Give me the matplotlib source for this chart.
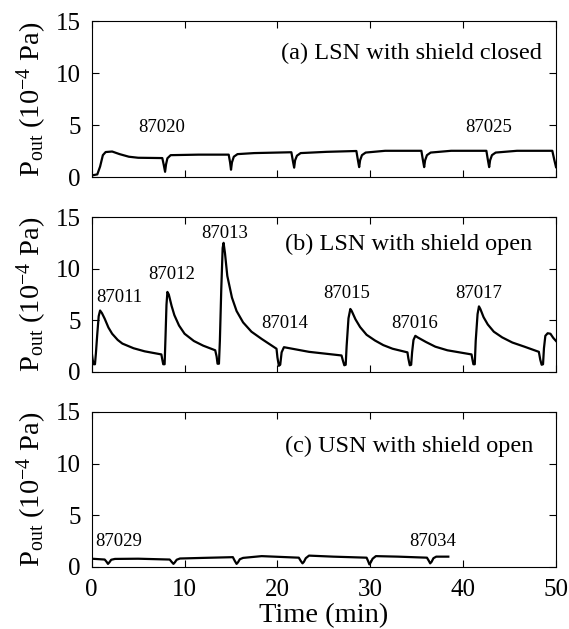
import matplotlib
matplotlib.use('Agg')
import matplotlib.pyplot as plt

plt.rcParams['font.family'] = ['Liberation Serif', 'DejaVu Serif']
plt.rcParams['mathtext.fontset'] = 'custom'
plt.rcParams['mathtext.rm'] = 'Liberation Serif'
plt.rcParams['mathtext.it'] = 'Liberation Serif:italic'

# (a) LSN with shield closed
t_a = [0, 0.6, 0.9, 1.2, 1.5, 2.2, 3.0, 4.0, 5.0, 7.6, 7.75, 7.9, 8.0, 8.15, 8.5,
       11.5, 14.75, 14.9, 15.0, 15.1, 15.3, 15.7, 17.5, 21.5, 21.65, 21.8, 21.9, 22.1, 22.5,
       25.3, 28.5, 28.65, 28.8, 28.9, 29.1, 29.5, 31.6, 35.5, 35.65, 35.8, 35.9, 36.1, 36.5,
       38.7, 42.5, 42.65, 42.8, 42.9, 43.1, 43.5, 45.8, 49.6, 49.8, 50.0]
p_a = [0.15, 0.25, 1.0, 2.1, 2.4, 2.45, 2.2, 1.95, 1.85, 1.82, 1.2, 0.5, 1.2, 1.8, 2.1,
       2.15, 2.15, 1.4, 0.7, 1.4, 1.95, 2.2, 2.3, 2.38, 1.6, 0.9, 1.6, 2.05, 2.3,
       2.42, 2.5, 1.7, 0.95, 1.6, 2.1, 2.35, 2.52, 2.52, 1.7, 0.95, 1.6, 2.1, 2.35,
       2.52, 2.52, 1.7, 0.95, 1.6, 2.1, 2.35, 2.52, 2.52, 1.7, 0.95]

# (b) LSN with shield open
t_b = [0, 0.1, 0.2, 0.35, 0.45, 0.6, 0.75, 0.9, 1.1, 1.4, 1.8, 2.2, 2.8, 3.3, 4.5, 5.7,
       7.5, 7.6, 7.7, 7.85, 7.95, 8.05, 8.15, 8.3, 8.6, 8.9, 9.4, 10.0, 11.0, 12.0,
       13.3, 13.45, 13.55, 13.7, 13.8, 13.95, 14.1, 14.2, 14.35, 14.6, 15.1, 15.6, 16.3,
       17.2, 18.3, 19.9, 20.0, 20.15, 20.3, 20.45, 20.7, 21.0, 23.4, 26.9, 27.05, 27.2,
       27.35, 27.45, 27.65, 27.85, 28.0, 28.4, 28.9, 29.6, 30.5, 31.4, 32.4, 34.0, 34.1,
       34.25, 34.4, 34.5, 34.65, 34.85, 35.1, 36.0, 37.0, 38.3, 40.9, 41.0, 41.1, 41.25,
       41.35, 41.55, 41.7, 41.85, 42.2, 42.65, 43.3, 44.2, 45.3, 46.6, 48.15, 48.3, 48.45,
       48.6, 48.7, 48.85, 49.1, 49.4, 49.7, 50.0]
p_b = [1.9, 1.2, 0.75, 0.75, 1.8, 3.7, 5.4, 5.95, 5.7, 5.15, 4.3, 3.7, 3.1, 2.75, 2.3, 2.0,
       1.7, 1.2, 0.75, 0.75, 3.5, 6.5, 7.75, 7.5, 6.4, 5.5, 4.5, 3.7, 3.0, 2.55,
       2.1, 1.5, 0.8, 0.8, 3.0, 8.0, 12.0, 12.5, 11.5, 9.3, 7.2, 5.9, 4.8,
       3.9, 3.2, 2.25, 1.4, 0.6, 0.7, 1.9, 2.4, 2.35, 1.95, 1.6, 1.1, 0.65,
       0.7, 2.5, 5.2, 6.1, 5.9, 5.1, 4.35, 3.6, 3.05, 2.6, 2.25, 1.9, 1.3,
       0.65, 0.7, 1.9, 3.1, 3.5, 3.35, 2.9, 2.45, 2.1, 1.7, 1.2, 0.75, 0.75,
       3.0, 5.6, 6.35, 6.1, 5.3, 4.6, 3.9, 3.35, 2.85, 2.45, 1.95, 1.2, 0.7,
       0.75, 2.3, 3.5, 3.75, 3.7, 3.3, 3.0]

# (c) USN with shield open
t_c = [0, 1.4, 1.6, 1.75, 1.9, 2.1, 2.5, 5.0, 8.4, 8.6, 8.8, 8.95, 9.15, 9.5, 12.0,
       15.2, 15.4, 15.6, 15.75, 15.95, 16.3, 18.3, 22.3, 22.5, 22.7, 22.85, 23.05, 23.4,
       26.0, 29.6, 29.75, 29.9, 30.05, 30.25, 30.6, 33.0, 36.1, 36.3, 36.45, 36.6, 36.8,
       37.1, 38.4]
p_c = [0.8, 0.72, 0.5, 0.3, 0.45, 0.7, 0.78, 0.8, 0.72, 0.5, 0.3, 0.45, 0.7, 0.82, 0.88,
       0.95, 0.6, 0.3, 0.45, 0.75, 0.88, 1.05, 0.9, 0.6, 0.35, 0.5, 0.85, 1.1,
       1.0, 0.9, 0.6, 0.25, 0.45, 0.8, 1.05, 1.0, 0.9, 0.6, 0.35, 0.5, 0.85,
       1.0, 1.0]

titles = ['(a) LSN with shield closed', '(b) LSN with shield open', '(c) USN with shield open']
shots_a = [('87020', 7.5, 4.75), ('87025', 42.8, 4.75)]
shots_b = [('87011', 2.95, 7.2), ('87012', 8.65, 9.4), ('87013', 14.35, 13.45),
           ('87014', 20.8, 4.65), ('87015', 27.5, 7.6), ('87016', 34.8, 4.65),
           ('87017', 41.7, 7.6)]
shots_c = [('87029', 2.95, 2.45), ('87034', 36.75, 2.45)]

x_ticks = [0, 10, 20, 30, 40, 50]
y_ticks = [0, 5, 10, 15]

fig = plt.figure(figsize=(5.69, 6.29), dpi=100)

# axes boxes in figure fraction
boxes = [[0.1612, 0.7186, 0.816, 0.248],
         [0.1612, 0.4086, 0.816, 0.2464],
         [0.1612, 0.0986, 0.816, 0.2464]]
title_pos = [(0.969, 0.795), (0.948, 0.826), (0.951, 0.78)]
series = [(t_a, p_a, shots_a), (t_b, p_b, shots_b), (t_c, p_c, shots_c)]

for i in range(3):
    ax = fig.add_axes(boxes[i])
    t, p, shots = series[i]
    ax.plot(t, p, color='black', lw=1.6)
    for label, x, y in shots:
        ax.text(x, y, label, fontsize=13.5, ha='center', va='center')
    ax.text(title_pos[i][0], title_pos[i][1], titles[i], transform=ax.transAxes,
            fontsize=17.5, ha='right', va='center')
    ax.set_xlim(0, 50)
    ax.set_ylim(0, 15)
    ax.set_xticks(x_ticks)
    ax.set_yticks(y_ticks)
    ax.tick_params(direction='in', top=True, right=True, length=5, width=0.8,
                   labelsize=18)
    ax.tick_params(axis='y', pad=8)
    ax.tick_params(axis='x', pad=9)
    for s in ax.spines.values():
        s.set_linewidth(0.8)
    ax.set_ylabel('P$_{\\mathrm{out}}$ (10$^{-4}$ Pa)', fontsize=20.5, labelpad=5)
    if i < 2:
        ax.tick_params(labelbottom=False)
    else:
        ax.set_xlabel('Time (min)', fontsize=20.5, labelpad=1)

fig.savefig('out.png', dpi=100)
